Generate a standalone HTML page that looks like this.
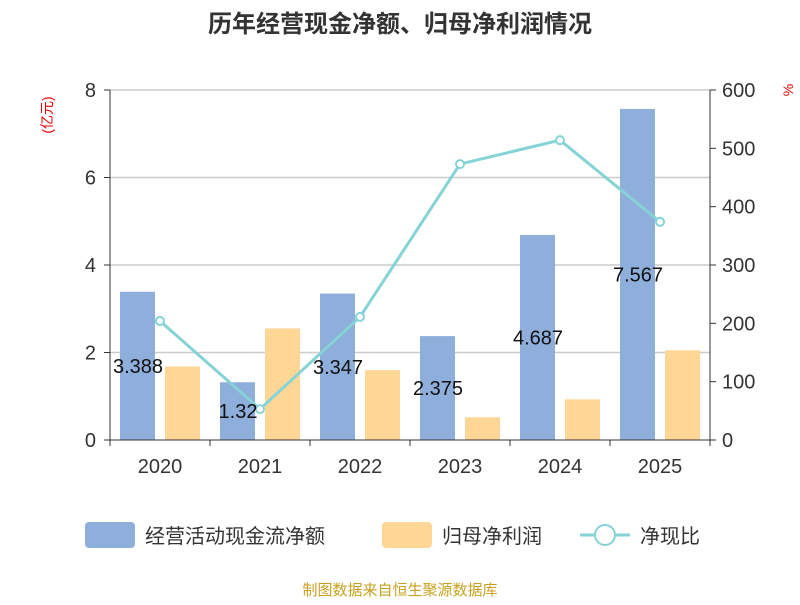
<!DOCTYPE html>
<html><head><meta charset="utf-8"><style>
body{margin:0;background:#fff;}
svg text{font-family:"Liberation Sans","Noto Sans CJK SC",sans-serif;}
</style></head><body>
<svg id="chart" width="800" height="600" viewBox="0 0 800 600" xmlns="http://www.w3.org/2000/svg">
<text x="400" y="32" text-anchor="middle" font-size="24" font-weight="bold" fill="#333">历年经营现金净额、归母净利润情况</text>
<text x="47" y="115" text-anchor="middle" dominant-baseline="central" font-size="14" fill="#e00" transform="rotate(-90 47 115)">(亿元)</text>
<text x="788" y="90" text-anchor="middle" dominant-baseline="central" font-size="14" fill="#e00" transform="rotate(-90 788 90)">%</text>
<g id="grid"></g><g id="bars"></g><g id="axes"></g><g id="line"></g><g id="labels"></g>
<g>
<rect x="85" y="522" width="50" height="26" rx="4" fill="#8eaedb"/>
<text x="145" y="543" font-size="20" fill="#333">经营活动现金流净额</text>
<rect x="382" y="522" width="50" height="26" rx="4" fill="#fed797"/>
<text x="442" y="543" font-size="20" fill="#333">归母净利润</text>
<line x1="580" y1="535" x2="630" y2="535" stroke="#85d3d6" stroke-width="3"/>
<circle cx="605" cy="535" r="10" fill="#fff" stroke="#85d3d6" stroke-width="2"/>
<text x="640" y="543" font-size="20" fill="#333">净现比</text>
</g>
<text x="400" y="595" text-anchor="middle" font-size="15" fill="#c8a020">制图数据来自恒生聚源数据库</text>
</svg>
<script>
const categories=["2020","2021","2022","2023","2024","2025"];
const cashFlow=[3.388,1.32,3.347,2.375,4.687,7.567];
const netProfit=[1.68,2.55,1.6,0.52,0.93,2.05];
const ratio=[204,53,211,473,514,374];
const leftTicks=[0,2,4,6,8];
const rightTicks=[0,100,200,300,400,500,600];
const NS="http://www.w3.org/2000/svg";
const X0=110,X1=710,Y0=440,Y1=90;
const step=(X1-X0)/categories.length;
const yL=v=>Y0-(v/8)*(Y0-Y1);
const yR=v=>Y0-(v/600)*(Y0-Y1);
const xC=i=>X0+step*(i+0.5);
function mk(tag,attrs,parent,text){const e=document.createElementNS(NS,tag);for(const k in attrs)e.setAttribute(k,attrs[k]);if(text!==undefined)e.textContent=text;document.getElementById(parent).appendChild(e);return e;}
leftTicks.forEach(t=>{
 if(t>0){const g=mk('line',{x1:X0,x2:X1,y1:yL(t),y2:yL(t),stroke:'#ccc','stroke-width':1.5},'grid');
 
 }
 const tk=mk('line',{x1:X0-6,x2:X0,y1:yL(t),y2:yL(t),stroke:'#333'},'axes');
 
 
 const l=mk('text',{x:X0-14,y:yL(t)+7,'text-anchor':'end','font-size':20,fill:'#333'},'axes',String(t));
 
 
});
rightTicks.forEach(t=>{
 const tk=mk('line',{x1:X1,x2:X1+6,y1:yR(t),y2:yR(t),stroke:'#333'},'axes');
 
 
 const l=mk('text',{x:X1+12,y:yR(t)+7,'font-size':20,fill:'#333'},'axes',String(t));
 
 
});
let a=mk('line',{x1:X0,x2:X0,y1:Y1,y2:Y0,stroke:'#333'},'axes');


a=mk('line',{x1:X1,x2:X1,y1:Y1,y2:Y0,stroke:'#333'},'axes');


a=mk('line',{x1:X0,x2:X1,y1:Y0,y2:Y0,stroke:'#333'},'axes');


for(let i=0;i<=categories.length;i++){
 const tk=mk('line',{x1:X0+step*i,x2:X0+step*i,y1:Y0,y2:Y0+6,stroke:'#333'},'axes');
 
 
}
categories.forEach((c,i)=>{
 const l=mk('text',{x:xC(i),y:Y0+33,'text-anchor':'middle','font-size':20,fill:'#333'},'axes',c);
 
 
 const b=mk('rect',{x:xC(i)-40,y:yL(cashFlow[i]),width:35,height:Y0-yL(cashFlow[i]),fill:'#8eaedb'},'bars');
 
 
 const o=mk('rect',{x:xC(i)+5,y:yL(netProfit[i]),width:35,height:Y0-yL(netProfit[i]),fill:'#fed797'},'bars');
 
 
 const mid=(yL(cashFlow[i])+Y0)/2;
 const v=mk('text',{x:xC(i)-22,y:mid+7,'text-anchor':'middle','font-size':20,fill:'#111'},'labels',String(cashFlow[i]));
 
 
});
const pl=mk('polyline',{points:ratio.map((r,i)=>xC(i)+','+yR(r)).join(' '),fill:'none',stroke:'#85d3d6','stroke-width':3},'line');


ratio.forEach((r,i)=>{
 const p=mk('circle',{cx:xC(i),cy:yR(r),r:4,fill:'#fff',stroke:'#85d3d6','stroke-width':2},'line');
 
 
});
</script>
</body></html>
